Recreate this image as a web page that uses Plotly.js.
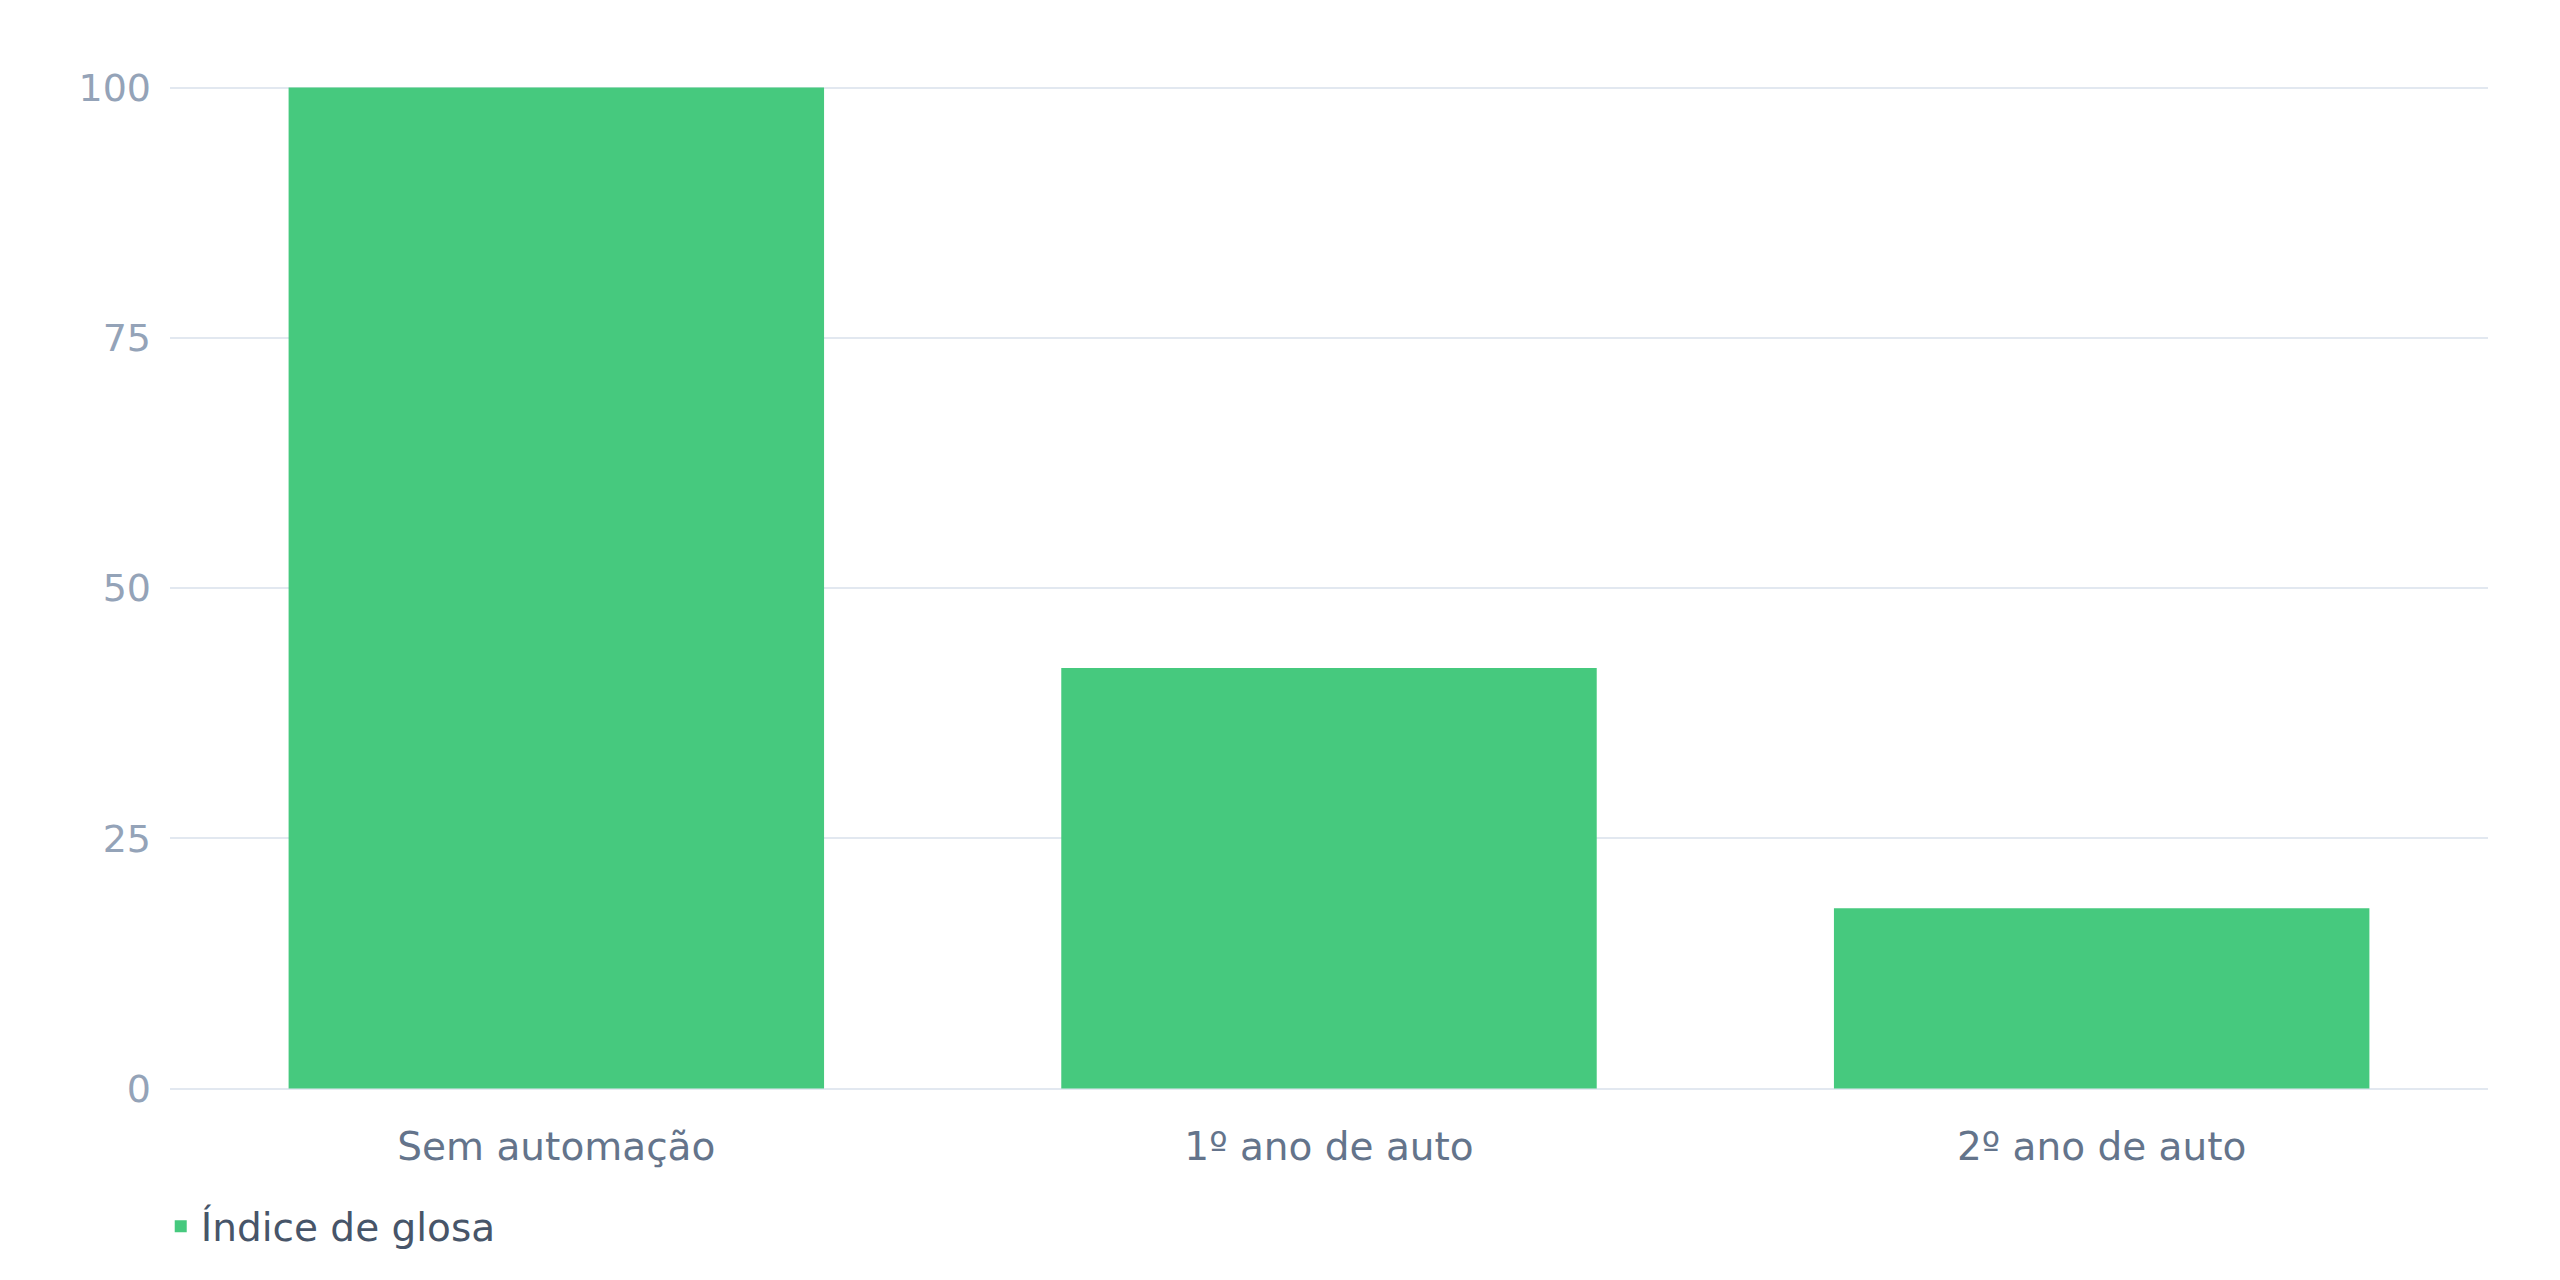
<!DOCTYPE html>
<html>
<head>
<meta charset="utf-8">
<script src="https://cdn.plot.ly/plotly-3.0.1.min.js"></script>
<style>
  html, body { margin: 0; padding: 0; background: #fff; }
  #chart { width: 2560px; height: 1280px; }
</style>
</head>
<body>
<div id="chart"></div>
<script>
// data
const categories = ["Sem automação", "1º ano de auto", "2º ano de auto"];
const glosaValues = [100, 42, 18];
const seriesName = "Índice de glosa";
const yTicks = [0, 25, 50, 75, 100];

const barColor = "#46c97e";

const data = [
  {
    type: "bar",
    x: categories,
    y: glosaValues,
    name: seriesName,
    marker: { color: barColor },
    hoverinfo: "x+y",
  },
];

const layout = {
  width: 2560,
  height: 1280,
  paper_bgcolor: "#ffffff",
  plot_bgcolor: "#ffffff",
  font: { family: "DejaVu Sans", size: 38, color: "#64748b" },
  margin: { l: 170, r: 72, t: 86, b: 190, pad: 0 },
  bargap: 0.307,
  showlegend: true,
  legend: {
    orientation: "h",
    x: -0.004,
    xanchor: "left",
    y: -0.104,
    yanchor: "top",
    font: { size: 39, color: "#475569" },
  },
  xaxis: {
    type: "category",
    showgrid: false,
    zeroline: false,
    showline: false,
    ticks: "",
    ticklabelstandoff: 30,
    tickfont: { color: "#64748b", size: 39 },
  },
  yaxis: {
    // a hair of padding so the gridlines at 0 and 100 are drawn
    range: [-0.15, 100.15],
    tickvals: yTicks,
    ticktext: yTicks.map(String),
    showgrid: true,
    gridcolor: "#e2e8f0",
    gridwidth: 2,
    zeroline: false,
    showline: false,
    ticks: "",
    ticklabelstandoff: 18,
    tickfont: { color: "#94a3b8", size: 38 },
  },
};

Plotly.newPlot("chart", data, layout, { displayModeBar: false, staticPlot: true });
</script>
</body>
</html>
